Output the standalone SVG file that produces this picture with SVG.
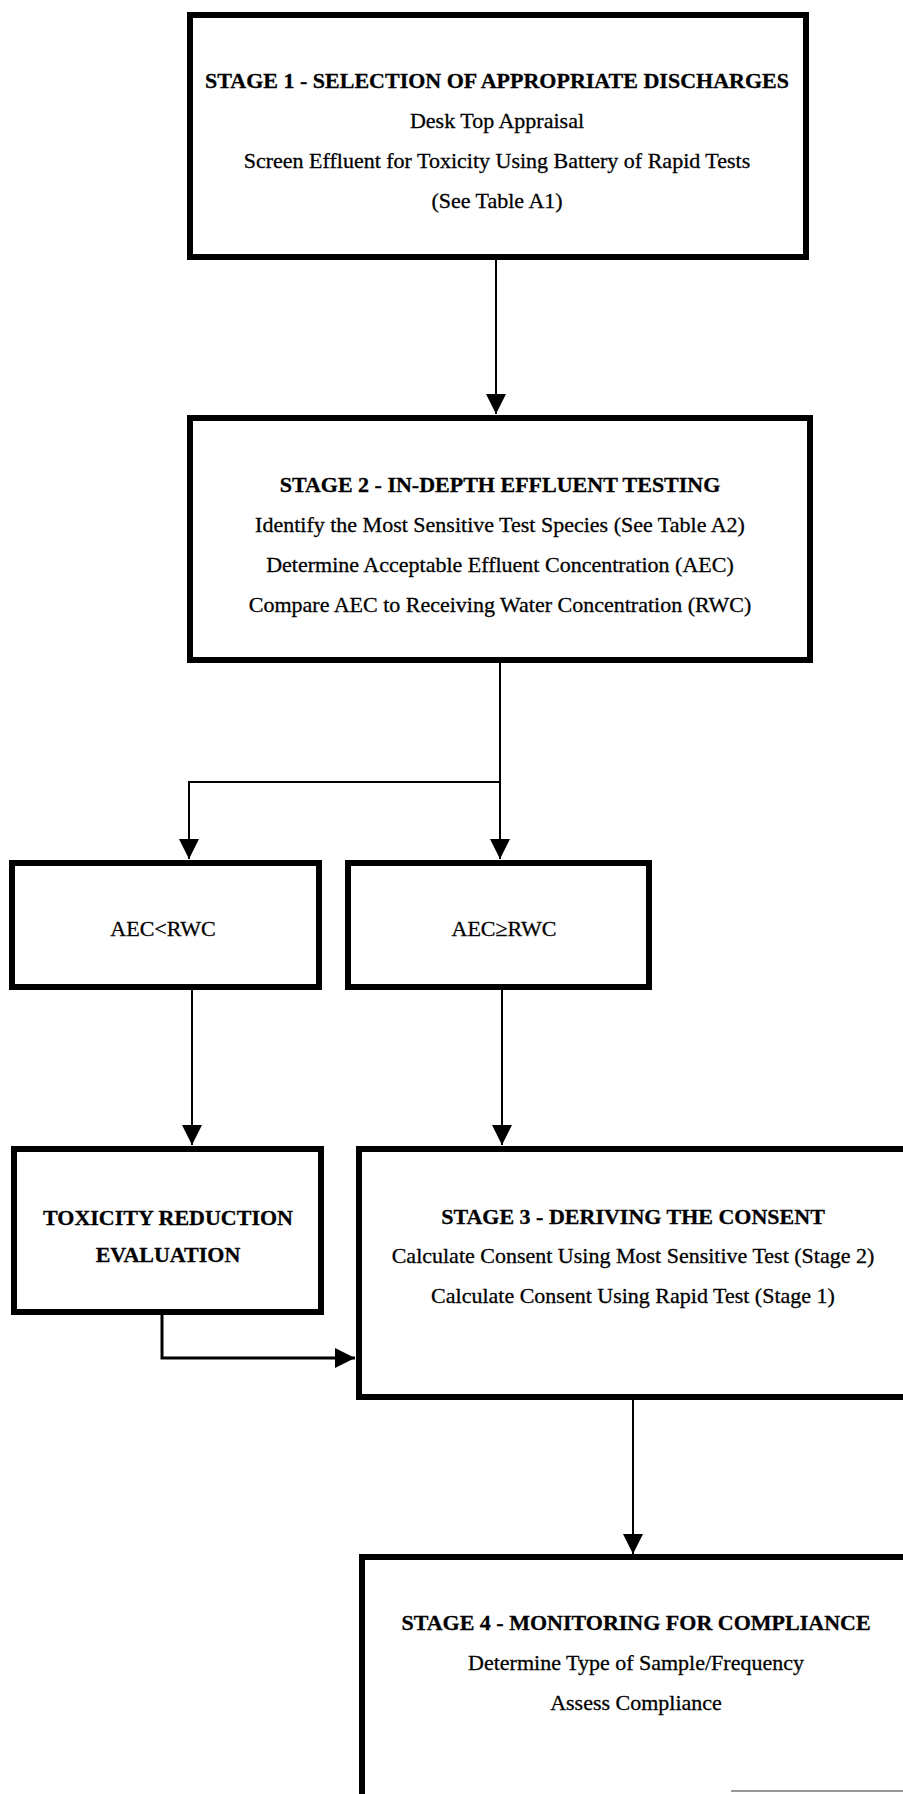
<svg xmlns="http://www.w3.org/2000/svg" width="903" height="1794" viewBox="0 0 903 1794">
<defs>
<style>
.box{fill:#fff;stroke:#000;stroke-width:6}
.t{font-family:"Liberation Serif","Times New Roman",serif;font-size:22px;fill:#000;stroke:#000;stroke-width:0.3;text-anchor:middle}
.h{font-weight:bold}
.c{fill:none;stroke:#000;stroke-width:2}
</style>
<marker id="ah" viewBox="0 0 20 20" refX="20" refY="10" markerWidth="20" markerHeight="20" markerUnits="userSpaceOnUse" orient="auto">
<path d="M0,0 L20,10 L0,20 Z" fill="#000"/>
</marker>
</defs>
<rect width="903" height="1794" fill="#fff"/>
<g id="connectors">
<line class="c" x1="496" y1="257" x2="496" y2="414" marker-end="url(#ah)"/>
<polyline class="c" points="500,660 500,782 189,782 189,859" marker-end="url(#ah)"/>
<line class="c" x1="500" y1="782" x2="500" y2="859" marker-end="url(#ah)"/>
<line class="c" x1="192" y1="989" x2="192" y2="1145" marker-end="url(#ah)"/>
<line class="c" x1="502" y1="989" x2="502" y2="1145" marker-end="url(#ah)"/>
<polyline class="c" points="162,1312 162,1358 355,1358" style="stroke-width:3" marker-end="url(#ah)"/>
<line class="c" x1="633" y1="1397" x2="633" y2="1554" marker-end="url(#ah)"/>
</g>
<g id="stage1">
<rect class="box" x="190" y="15" width="616" height="242"/>
<text class="t h" x="497" y="88">STAGE 1 - SELECTION OF APPROPRIATE DISCHARGES</text>
<text class="t" x="497" y="128">Desk Top Appraisal</text>
<text class="t" x="497" y="168">Screen Effluent for Toxicity Using Battery of Rapid Tests</text>
<text class="t" x="497" y="208">(See Table A1)</text>
</g>
<g id="stage2">
<rect class="box" x="190" y="418" width="620" height="242"/>
<text class="t h" x="500" y="492">STAGE 2 - IN-DEPTH EFFLUENT TESTING</text>
<text class="t" x="500" y="532">Identify the Most Sensitive Test Species (See Table A2)</text>
<text class="t" x="500" y="572">Determine Acceptable Effluent Concentration (AEC)</text>
<text class="t" x="500" y="612">Compare AEC to Receiving Water Concentration (RWC)</text>
</g>
<g id="aec-lt">
<rect class="box" x="12" y="863" width="307" height="124"/>
<text class="t" x="163" y="936">AEC&lt;RWC</text>
</g>
<g id="aec-ge">
<rect class="box" x="348" y="863" width="301" height="124"/>
<text class="t" x="504" y="936">AEC≥RWC</text>
</g>
<g id="tre">
<rect class="box" x="14" y="1149" width="307" height="163"/>
<text class="t h" x="168" y="1225">TOXICITY REDUCTION</text>
<text class="t h" x="168" y="1262">EVALUATION</text>
</g>
<g id="stage3">
<rect class="box" x="359" y="1149" width="560" height="248"/>
<text class="t h" x="633" y="1224">STAGE 3 - DERIVING THE CONSENT</text>
<text class="t" x="633" y="1263">Calculate Consent Using Most Sensitive Test (Stage 2)</text>
<text class="t" x="633" y="1303">Calculate Consent Using Rapid Test (Stage 1)</text>
</g>
<g id="stage4">
<path d="M362,1800 L362,1557 L910,1557" fill="none" stroke="#000" stroke-width="6"/>
<line x1="731" y1="1791" x2="903" y2="1791" stroke="#777" stroke-width="1.5"/>
<text class="t h" x="636" y="1630">STAGE 4 - MONITORING FOR COMPLIANCE</text>
<text class="t" x="636" y="1670">Determine Type of Sample/Frequency</text>
<text class="t" x="636" y="1710">Assess Compliance</text>
</g>
</svg>
